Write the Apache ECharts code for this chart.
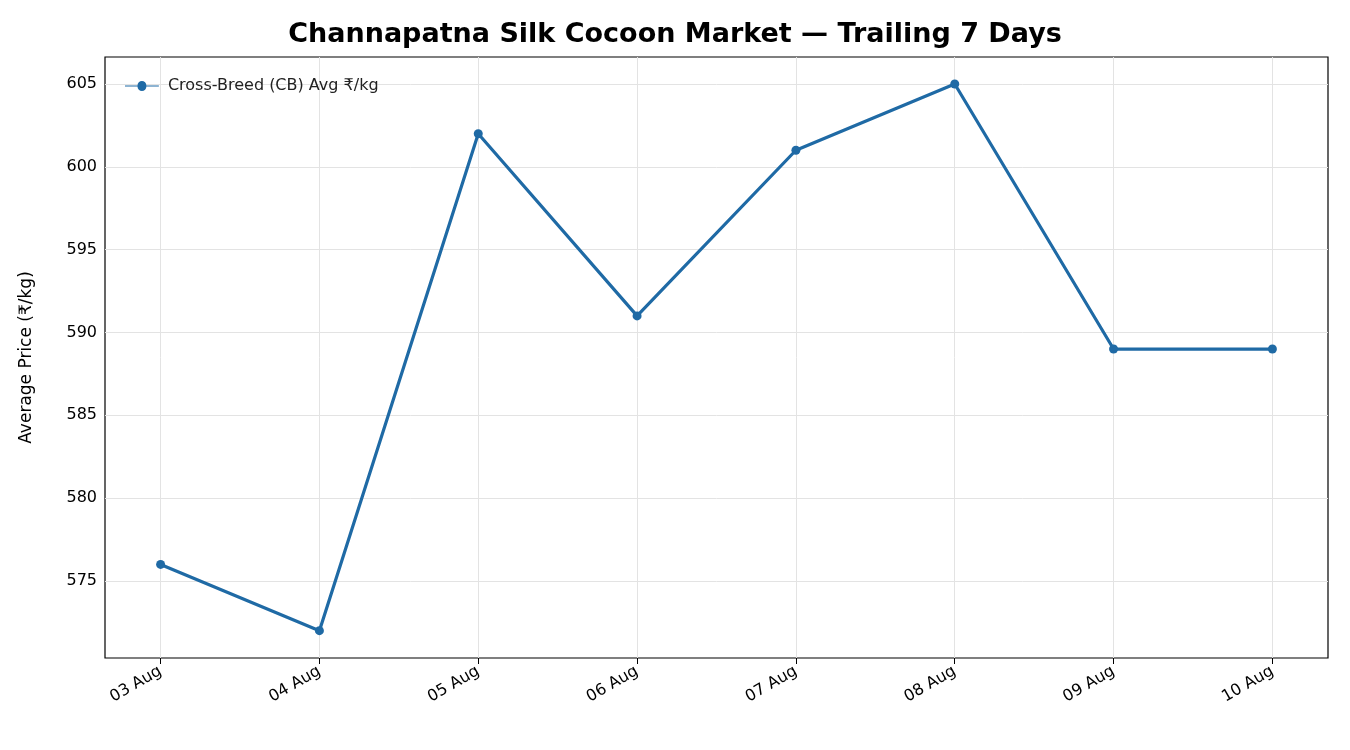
<!DOCTYPE html>
<html><head><meta charset="utf-8">
<script src="https://cdn.jsdelivr.net/npm/echarts@6/dist/echarts.min.js"></script>
<style>html,body{margin:0;padding:0;background:#fff}#c{width:1350px;height:750px}</style>
</head><body><div id="c"></div>
<script>
const categories = ["03 Aug","04 Aug","05 Aug","06 Aug","07 Aug","08 Aug","09 Aug","10 Aug"];
const prices = [576, 572, 602, 591, 601, 605, 589, 589];
const yTicks = [575, 580, 585, 590, 595, 600, 605];
const seriesName = "Cross-Breed (CB) Avg ₹/kg";
const F = "DejaVu Sans";
const xIdx = categories.map((c,i)=>i);
const gridLines = xIdx.map(i=>({xAxis:i})).concat(yTicks.map(v=>({yAxis:v})));
const chart = echarts.init(document.getElementById('c'));
chart.setOption({
  animation:false,
  title:{text:"Channapatna Silk Cocoon Market — Trailing 7 Days",left:'center',top:16,
    textStyle:{fontFamily:F,fontSize:27,fontWeight:'bold',color:'#000'}},
  legend:{left:120,top:73,itemWidth:42,itemHeight:10,itemGap:10,
    icon:'path://M0,4.3 L15.5,4.3 A5,5,0,0,1,26.5,4.3 L42,4.3 L42,5.7 L26.5,5.7 A5,5,0,0,1,15.5,5.7 L0,5.7 Z',
    textStyle:{fontFamily:F,fontSize:16,color:'#222'},data:[seriesName]},
  grid:{left:105,right:22,top:57,bottom:92,show:true,borderColor:'#000',borderWidth:1.2,containLabel:false},
  xAxis:{type:'value',min:-0.35,max:7.35,
    axisLine:{show:false},
    axisTick:{show:true,length:6,customValues:xIdx,lineStyle:{color:'#000'}},
    splitLine:{show:false},
    axisLabel:{rotate:30,fontFamily:F,fontSize:16,color:'#000',margin:12,customValues:xIdx,
      formatter:v=>categories[Math.round(v)]}},
  yAxis:{type:'value',min:570.35,max:606.63,
    name:'Average Price (₹/kg)',nameLocation:'middle',nameGap:70,
    nameTextStyle:{fontFamily:F,fontSize:17,color:'#000'},
    axisLine:{show:false},
    axisTick:{show:true,length:6,customValues:yTicks,lineStyle:{color:'#000'}},
    splitLine:{show:false},
    axisLabel:{fontFamily:F,fontSize:16,color:'#000',customValues:yTicks,formatter:v=>String(Math.round(v))}},
  series:[{name:seriesName,type:'line',data:prices.map((v,i)=>[i,v]),
    symbol:'circle',symbolSize:9,z:3,
    lineStyle:{color:'#1f6aa5',width:3.2},itemStyle:{color:'#1f6aa5'},
    markLine:{silent:true,symbol:'none',label:{show:false},z:1,
      lineStyle:{color:'#e3e3e3',type:'solid',width:1},data:gridLines}}]
});
</script></body></html>
